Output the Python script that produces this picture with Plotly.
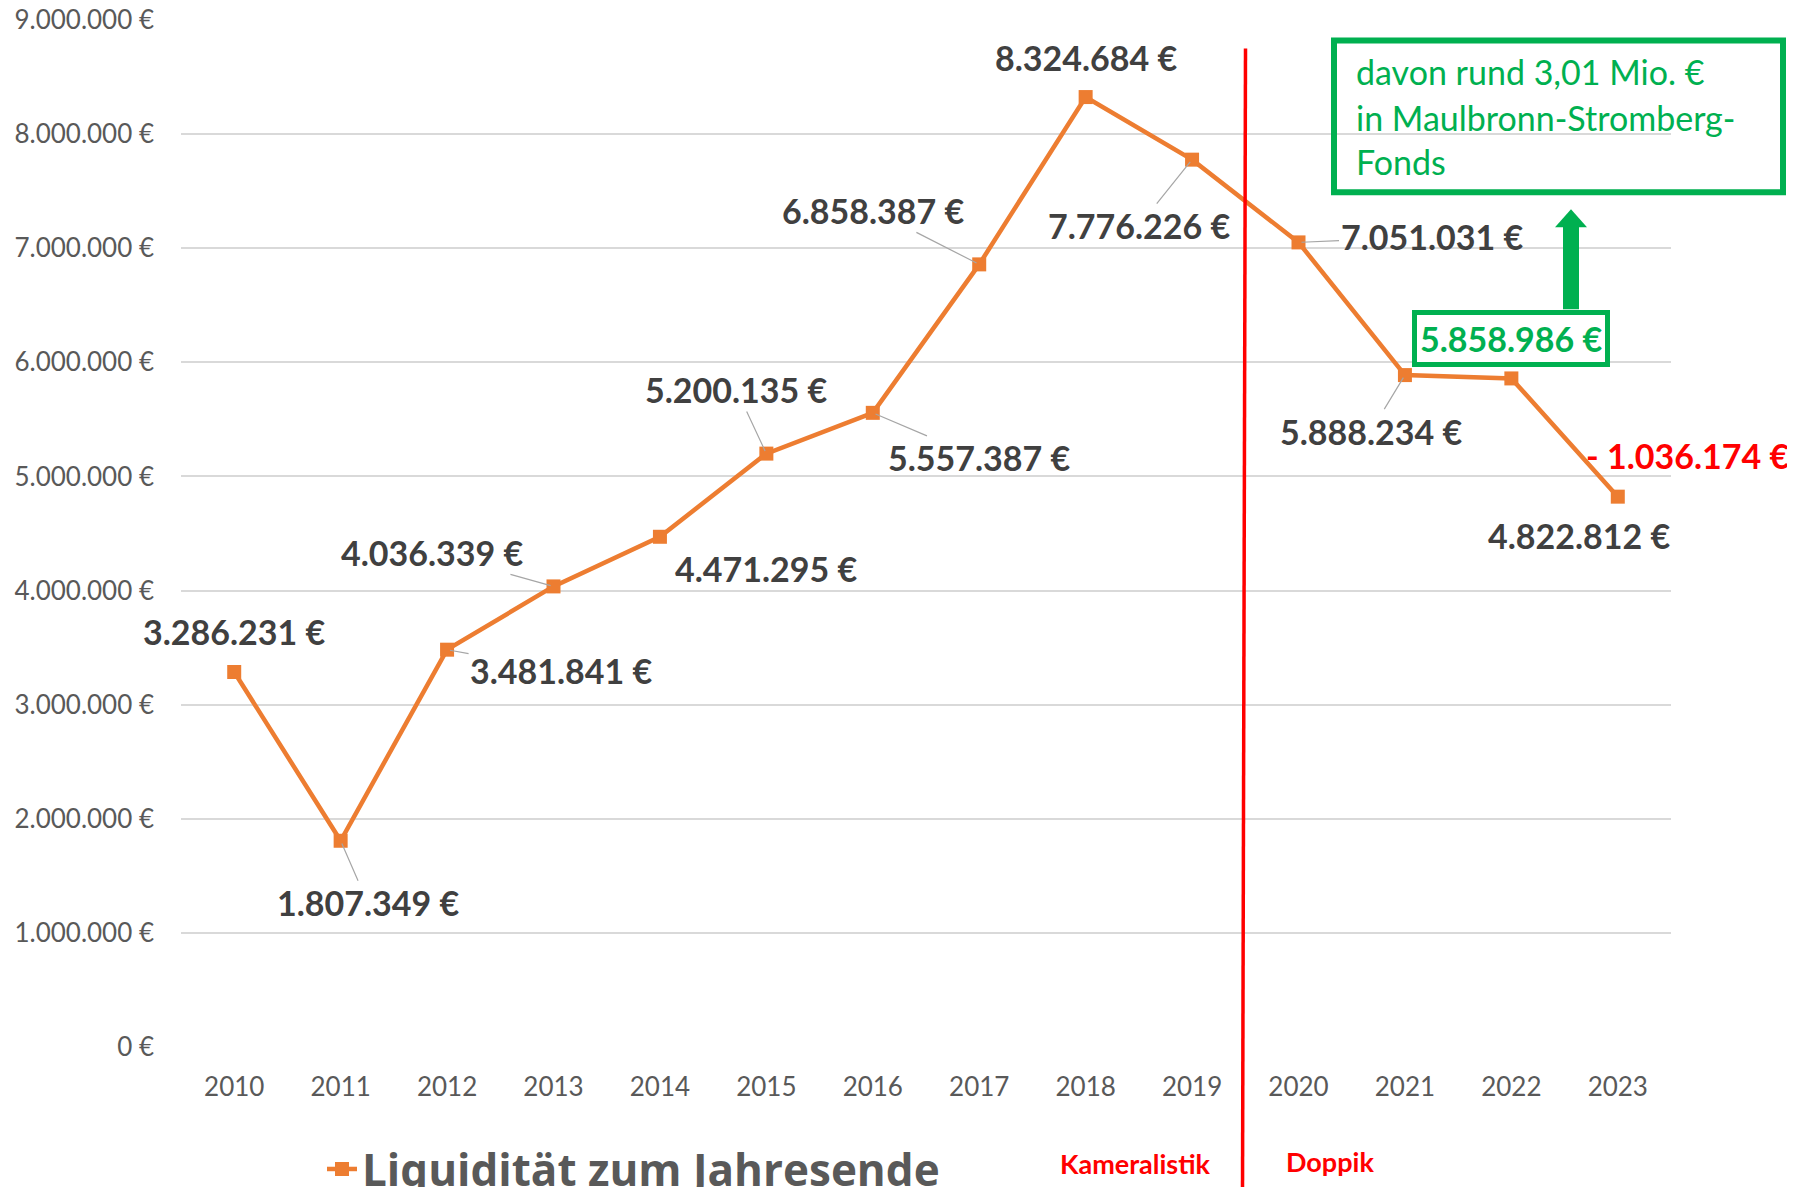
import plotly.graph_objects as go

# ---------------- data ----------------
years = [2010, 2011, 2012, 2013, 2014, 2015, 2016, 2017, 2018, 2019, 2020, 2021, 2022, 2023]
liquiditaet = [3286231, 1807349, 3481841, 4036339, 4471295, 5200135, 5557387,
               6858387, 8324684, 7776226, 7051031, 5888234, 5858986, 4822812]
series_name = "Liquidität zum Jahresende"
y_ticks = [0, 1000000, 2000000, 3000000, 4000000, 5000000, 6000000, 7000000, 8000000, 9000000]
note_lines = ["davon rund 3,01 Mio. €", "in Maulbronn-Stromberg-", "Fonds"]
era_labels = ["Kameralistik", "Doppik"]

# ---------------- label placement (pixel offsets, leader flag) ----------------
label_dx = [0, 27, 114, -122, 106, -30, 106, -106, 0, -53, 133, -34, 0, -39]
label_dy = [-41, 62, 21, -34, 32, -64, 45, -54, -40, 66, -6, 56, -40, 39]
leader = [False, True, True, True, False, True, True, True, False, True, True, True, False, False]

ORANGE = "#ED7D31"
GREEN = "#00B050"
RED = "#FF0000"
DARK = "#404040"
GRAY = "#595959"

OFF = 8  # page body margin
W, H = 1795 - 2 * OFF, 1195 - 2 * OFF
# plot area in reference pixel coordinates
L, R, T, B = 181, 1671, 19.5, 1047.5


def pxx(x):
    return (x - L) / (R - L)


def pxy(y):
    return (B - y) / (B - T)


def fmt(v):
    return f"{v:,}".replace(",", ".") + " €"


fig = go.Figure()
fig.add_trace(go.Scatter(
    x=years, y=liquiditaet, mode="lines+markers", name=series_name,
    line=dict(color=ORANGE, width=4.5),
    marker=dict(symbol="square", size=14, color=ORANGE),
))

annotations = []
for i, (yr, v) in enumerate(zip(years, liquiditaet)):
    highlight = (i == len(years) - 2)
    a = dict(
        x=yr, y=v, xref="x", yref="y", text=fmt(v),
        showarrow=True, ax=label_dx[i], ay=label_dy[i],
        arrowhead=0, arrowwidth=1.2, standoff=3,
        arrowcolor="#A6A6A6" if leader[i] else "rgba(0,0,0,0)",
        font=dict(family="Lato", size=34, color=GREEN if highlight else DARK, weight="bold"),
    )
    if highlight:
        a.update(bordercolor=GREEN, borderwidth=5, borderpad=3, bgcolor="white")
    annotations.append(a)

# difference 2022 -> 2023
diff = liquiditaet[-2] - liquiditaet[-1]
annotations.append(dict(
    x=years[-1], y=liquiditaet[-1], xref="x", yref="y",
    text="- " + fmt(diff), showarrow=True, ax=70, ay=-41,
    arrowcolor="rgba(0,0,0,0)",
    font=dict(family="Lato", size=34, color=RED, weight="bold"),
))

# note box text
for k, (line, yc) in enumerate(zip(note_lines, [71, 117, 161])):
    annotations.append(dict(
        x=pxx(1354), y=pxy(yc), xref="paper", yref="paper", xanchor="left", yanchor="middle",
        text=line, showarrow=False,
        font=dict(family="Lato", size=34, color=GREEN),
    ))

# era labels
annotations.append(dict(x=pxx(1135), y=pxy(1164), xref="paper", yref="paper",
                        xanchor="center", yanchor="middle",
                        text=era_labels[0], showarrow=False,
                        font=dict(family="Lato", size=27, color=RED, weight="bold")))
annotations.append(dict(x=pxx(1330), y=pxy(1162), xref="paper", yref="paper",
                        xanchor="center", yanchor="middle",
                        text=era_labels[1], showarrow=False,
                        font=dict(family="Lato", size=27, color=RED, weight="bold")))

shapes = [
    # separator line Kameralistik / Doppik
    dict(type="line", xref="paper", yref="paper",
         x0=pxx(1245.5), y0=pxy(48), x1=pxx(1242.5), y1=pxy(1195),
         line=dict(color=RED, width=3.5)),
    # note box
    dict(type="rect", xref="paper", yref="paper",
         x0=pxx(1334), x1=pxx(1783), y0=pxy(40), y1=pxy(192),
         line=dict(color=GREEN, width=6), fillcolor="rgba(0,0,0,0)"),
    # arrow shaft
    dict(type="rect", xref="paper", yref="paper",
         x0=pxx(1563), x1=pxx(1579), y0=pxy(226), y1=pxy(309),
         line=dict(width=0), fillcolor=GREEN),
    # arrow head
    dict(type="path", xref="paper", yref="paper",
         path=f"M {pxx(1555)} {pxy(227)} L {pxx(1587)} {pxy(227)} L {pxx(1571)} {pxy(209)} Z",
         line=dict(width=0), fillcolor=GREEN),
]

fig.update_layout(
    width=W, height=H,
    margin=dict(l=L - OFF, r=W - (R - OFF), t=T - OFF, b=H - (B - OFF), autoexpand=False),
    paper_bgcolor="white", plot_bgcolor="white",
    font=dict(family="Lato", color=GRAY),
    showlegend=True,
    legend=dict(x=pxx(322), y=pxy(1170), xanchor="left", yanchor="middle",
                orientation="h", bgcolor="rgba(0,0,0,0)",
                font=dict(family="Open Sans", size=44, color=GRAY, weight="bold")),
    annotations=annotations,
    shapes=shapes,
    xaxis=dict(range=[years[0] - 0.5, years[-1] + 0.5], tickmode="array", tickvals=years,
               ticktext=[str(y) for y in years], showgrid=False, zeroline=False,
               showline=False, ticks="", ticklabelstandoff=22,
               tickfont=dict(family="Lato", size=26, color=GRAY)),
    yaxis=dict(range=[0, 9000000], tickmode="array", tickvals=y_ticks,
               ticktext=[fmt(v) for v in y_ticks], showgrid=True,
               gridcolor="#D9D9D9", gridwidth=2, zeroline=False, showline=False,
               ticks="", ticklabelstandoff=26, ticklabeloverflow="allow",
               tickfont=dict(family="Lato", size=26, color=GRAY)),
)

fig.write_html("out.html")
